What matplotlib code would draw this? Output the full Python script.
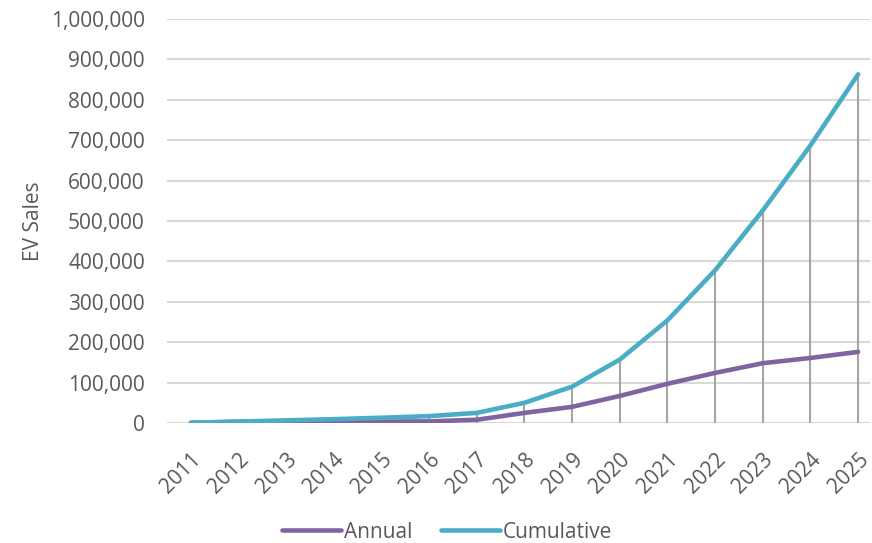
import matplotlib
matplotlib.use("Agg")
import matplotlib.pyplot as plt
from matplotlib.ticker import FuncFormatter

years = ["2011", "2012", "2013", "2014", "2015", "2016", "2017", "2018",
         "2019", "2020", "2021", "2022", "2023", "2024", "2025"]
annual = [500, 3000, 3000, 3000, 3500, 4000, 8000, 25000,
          40000, 67000, 97000, 124000, 148000, 161000, 176000]
cumulative = [500, 3500, 6500, 9500, 13000, 17000, 25000, 50000,
              90000, 157000, 254000, 378000, 526000, 687000, 863000]

plt.rcParams['font.family'] = ['Open Sans', 'DejaVu Sans']
txt = '#595959'

fig = plt.figure(figsize=(8.72, 5.43), dpi=100)
ax = fig.add_axes([0.1915, 0.221, 0.8062, 0.744])

x = list(range(len(years)))
ax.vlines(x, 0, [max(a, c) for a, c in zip(annual, cumulative)],
          colors='#A6A6A6', linewidth=1.5, zorder=2)
la, = ax.plot(x, annual, color='#8064A2', linewidth=3.3, solid_capstyle='round', zorder=3, label='Annual')
lc, = ax.plot(x, cumulative, color='#4BACC6', linewidth=3.3, solid_capstyle='round', zorder=4, label='Cumulative')

ax.set_ylim(0, 1000000)
ax.set_xlim(-0.5, 14.25)
ax.set_yticks(range(0, 1000001, 100000))
ax.yaxis.set_major_formatter(FuncFormatter(lambda v, p: f"{int(v):,}"))
ax.set_xticks(x)
ax.set_xticklabels(years, rotation=45, ha='right', rotation_mode='anchor')
ax.grid(axis='y', color='#D9D9D9', linewidth=1.5, zorder=0)
ax.set_axisbelow(True)
for s in ax.spines.values():
    s.set_visible(False)
ax.tick_params(axis='both', length=0, labelsize=15, colors=txt)
ax.tick_params(axis='y', pad=16)
ax.tick_params(axis='x', pad=19)
ax.set_ylabel('EV Sales', fontsize=15, color=txt, labelpad=5)

fig.legend(handles=[la, lc], loc='center', bbox_to_anchor=(0.513, 0.02),
           ncol=2, frameon=False, fontsize=15, handlelength=2.8,
           handletextpad=0.15, columnspacing=1.4, labelcolor=txt)

fig.savefig('out.png', dpi=100)
